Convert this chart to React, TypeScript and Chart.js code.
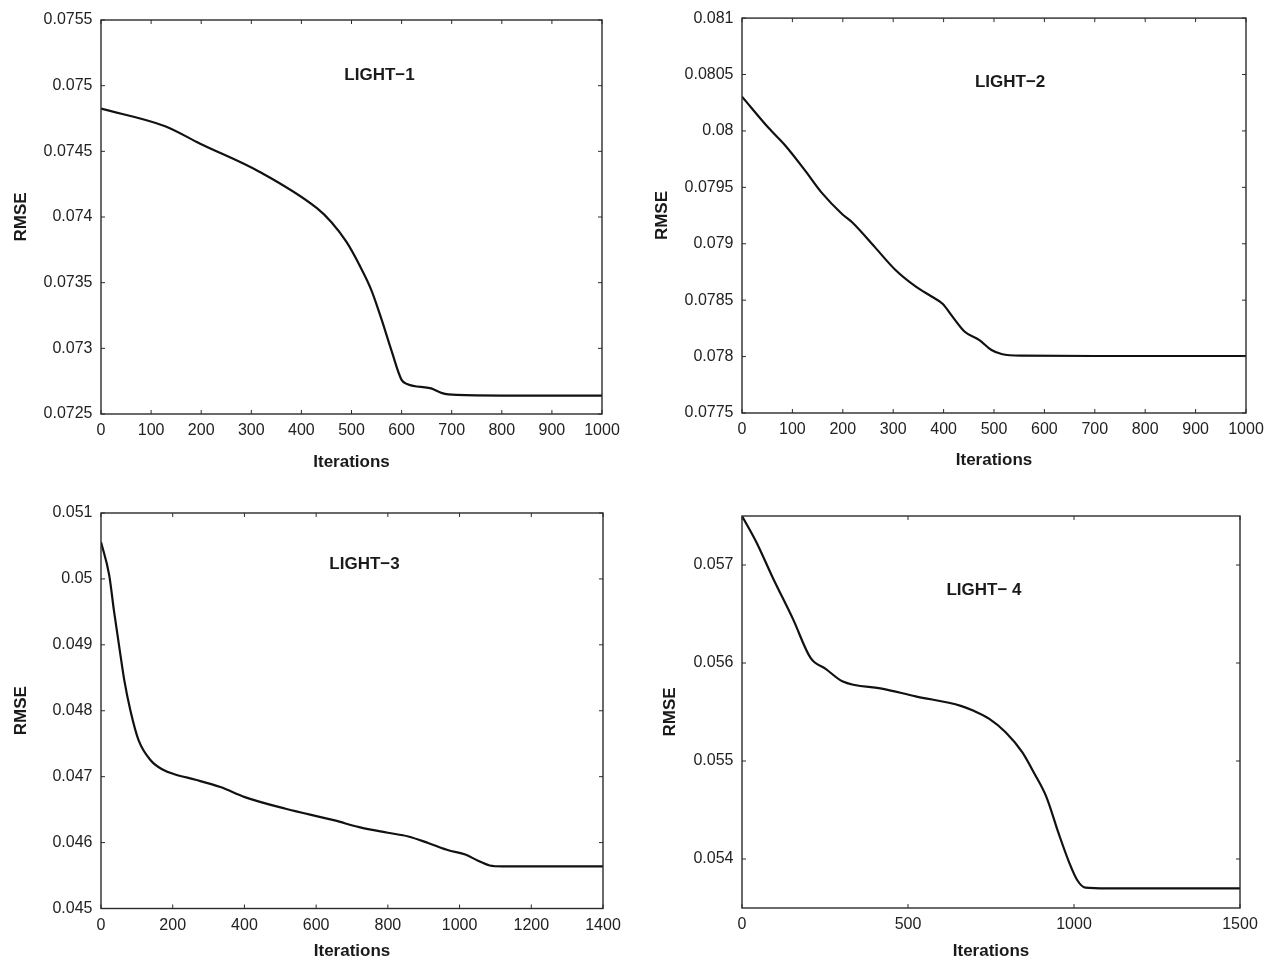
import React, { useEffect, useRef } from "react";
import { Chart, registerables } from "chart.js";

Chart.register(...registerables);

// ---------------- DATA ----------------
const light1Iterations = [0, 128, 197, 316, 431, 460, 490, 515, 540, 560, 580, 600, 612, 659, 681, 710, 800, 1000];
const light1Rmse = [0.074825, 0.074691, 0.07456, 0.074345, 0.074067, 0.07396, 0.07381, 0.07364, 0.07344, 0.07322, 0.07298, 0.07276, 0.072727, 0.072695, 0.072659, 0.072645, 0.07264, 0.07264];

const light2Iterations = [0, 53, 87, 126, 158, 199, 219, 264, 304, 345, 377, 398, 418, 442, 471, 495, 515, 556, 700, 1000];
const light2Rmse = [0.080304, 0.080025, 0.079864, 0.079644, 0.079453, 0.079262, 0.079188, 0.078968, 0.07877, 0.07862, 0.07853, 0.078468, 0.078352, 0.07822, 0.078146, 0.078058, 0.078023, 0.078008, 0.078005, 0.078005];

const light3Iterations = [0, 23, 36, 51, 65, 82, 105, 139, 173, 207, 264, 333, 401, 515, 652, 720, 800, 857, 914, 971, 1016, 1050, 1084, 1119, 1200, 1400];
const light3Rmse = [0.05056, 0.050054, 0.049523, 0.048966, 0.04846, 0.048005, 0.04755, 0.047246, 0.047105, 0.047034, 0.046953, 0.046842, 0.04669, 0.046513, 0.046336, 0.046234, 0.046149, 0.046093, 0.045991, 0.04588, 0.04582, 0.045728, 0.045653, 0.04564, 0.04564, 0.04564];

const light4Iterations = [0, 43, 92, 154, 207, 252, 302, 425, 523, 659, 696, 745, 794, 844, 881, 917, 954, 985, 1010, 1034, 1100, 1500];
const light4Rmse = [0.0575, 0.057235, 0.056875, 0.056445, 0.056049, 0.05594, 0.055814, 0.055736, 0.05566, 0.055563, 0.055515, 0.05543, 0.055294, 0.055091, 0.05487, 0.054632, 0.054258, 0.053969, 0.053783, 0.053708, 0.0537, 0.0537];

const xTicks1000 = [0, 100, 200, 300, 400, 500, 600, 700, 800, 900, 1000];
const xTicks1400 = [0, 200, 400, 600, 800, 1000, 1200, 1400];
const xTicks1500 = [0, 500, 1000, 1500];

const light1YTicks = [0.0725, 0.073, 0.0735, 0.074, 0.0745, 0.075, 0.0755];
const light2YTicks = [0.0775, 0.078, 0.0785, 0.079, 0.0795, 0.08, 0.0805, 0.081];
const light3YTicks = [0.045, 0.046, 0.047, 0.048, 0.049, 0.05, 0.051];
const light4YTicks = [0.054, 0.055, 0.056, 0.057];

const panelNames = ["LIGHT\u22121", "LIGHT\u22122", "LIGHT\u22123", "LIGHT\u2212 4"];
const xAxisTitle = "Iterations";
const yAxisTitle = "RMSE";

// ---------------- LAYOUT / STYLE ----------------
const FONT = '"Liberation Sans", Arial, Helvetica, sans-serif';

type PanelCfg = {
  xs: number[];
  ys: number[];
  xTicks: number[];
  yTicks: number[];
  xRange: [number, number];
  yRange: [number, number];
  name: string;
  namePos: [number, number];
  box: { left: number; top: number; width: number; height: number };
  pad: { top: number; right: number };
  yWidth: number;
  xHeight: number;
  yTitlePad: number;
  xTitlePad: number;
};

const panels: PanelCfg[] = [
  {
    xs: light1Iterations, ys: light1Rmse, xTicks: xTicks1000, yTicks: light1YTicks,
    xRange: [0, 1000], yRange: [0.0725, 0.0755], name: panelNames[0], namePos: [556, 0.07508],
    box: { left: 0, top: 0, width: 635, height: 480 }, pad: { top: 20, right: 33 },
    yWidth: 101, xHeight: 66, yTitlePad: 12.5, xTitlePad: 9.5,
  },
  {
    xs: light2Iterations, ys: light2Rmse, xTicks: xTicks1000, yTicks: light2YTicks,
    xRange: [0, 1000], yRange: [0.0775, 0.081], name: panelNames[1], namePos: [532, 0.08043],
    box: { left: 635, top: 0, width: 636, height: 480 }, pad: { top: 16, right: 25 },
    yWidth: 107, xHeight: 67, yTitlePad: 18.5, xTitlePad: 11.5,
  },
  {
    xs: light3Iterations, ys: light3Rmse, xTicks: xTicks1400, yTicks: light3YTicks,
    xRange: [0, 1400], yRange: [0.045, 0.051], name: panelNames[2], namePos: [735, 0.050227],
    box: { left: 0, top: 480, width: 635, height: 480 }, pad: { top: 33, right: 32 },
    yWidth: 101, xHeight: 51.5, yTitlePad: 12.5, xTitlePad: 0.5,
  },
  {
    xs: light4Iterations, ys: light4Rmse, xTicks: xTicks1500, yTicks: light4YTicks,
    xRange: [0, 1500], yRange: [0.0535, 0.0575], name: panelNames[3], namePos: [729, 0.056745],
    box: { left: 635, top: 480, width: 636, height: 480 }, pad: { top: 36, right: 31 },
    yWidth: 107, xHeight: 52, yTitlePad: 26.5, xTitlePad: 0,
  },
];

const framePlugin = {
  id: "frame",
  afterDatasetsDraw(chart: any, _args: any, opts: any) {
    const { ctx, chartArea: a, scales } = chart;
    const L = 4;
    ctx.save();
    ctx.strokeStyle = "#2b2b2b";
    ctx.lineWidth = 1.4;
    ctx.strokeRect(a.left, a.top, a.right - a.left, a.bottom - a.top);
    ctx.beginPath();
    scales.x.ticks.forEach((t: any) => {
      const px = scales.x.getPixelForValue(t.value);
      ctx.moveTo(px, a.bottom);
      ctx.lineTo(px, a.bottom - L);
      ctx.moveTo(px, a.top);
      ctx.lineTo(px, a.top + L);
    });
    scales.y.ticks.forEach((t: any) => {
      const py = scales.y.getPixelForValue(t.value);
      ctx.moveTo(a.left, py);
      ctx.lineTo(a.left + L, py);
      ctx.moveTo(a.right, py);
      ctx.lineTo(a.right - L, py);
    });
    ctx.lineWidth = 1;
    ctx.stroke();
    ctx.font = `bold 17px ${FONT}`;
    ctx.fillStyle = "#1a1a1a";
    ctx.textAlign = "center";
    ctx.textBaseline = "middle";
    ctx.fillText(opts.text, scales.x.getPixelForValue(opts.x), scales.y.getPixelForValue(opts.y));
    ctx.restore();
  },
};

const fmt = (v: number) => String(Number(v.toFixed(5)));

function Panel({ cfg }: { cfg: PanelCfg }) {
  const ref = useRef<HTMLCanvasElement>(null);
  useEffect(() => {
    const chart = new Chart(ref.current as HTMLCanvasElement, {
      type: "line",
      data: {
        datasets: [
          {
            data: cfg.xs.map((x, i) => ({ x, y: cfg.ys[i] })),
            borderColor: "#111111",
            borderWidth: 2.2,
            pointRadius: 0,
            cubicInterpolationMode: "monotone",
            fill: false,
          },
        ],
      },
      options: {
        animation: false,
        responsive: false,
        devicePixelRatio: 1,
        layout: { padding: { top: cfg.pad.top, right: cfg.pad.right, left: 0, bottom: 0 } },
        plugins: {
          legend: { display: false },
          tooltip: { enabled: false },
          frame: { text: cfg.name, x: cfg.namePos[0], y: cfg.namePos[1] },
        } as any,
        scales: {
          x: {
            type: "linear",
            min: cfg.xRange[0],
            max: cfg.xRange[1],
            grid: { display: false, drawTicks: false },
            border: { display: false },
            afterBuildTicks: (s: any) => {
              s.ticks = cfg.xTicks.map((v) => ({ value: v }));
            },
            afterFit: (s: any) => {
              s.height = cfg.xHeight;
            },
            ticks: {
              autoSkip: false,
              maxRotation: 0,
              padding: 7,
              color: "#222",
              font: { family: FONT, size: 16 },
              callback: (v: any) => String(v),
            },
            title: {
              display: true,
              text: xAxisTitle,
              color: "#1a1a1a",
              font: { family: FONT, size: 17, weight: "bold", lineHeight: 1 },
              padding: { top: 0, bottom: cfg.xTitlePad },
            },
          },
          y: {
            type: "linear",
            min: cfg.yRange[0],
            max: cfg.yRange[1],
            grid: { display: false, drawTicks: false },
            border: { display: false },
            afterBuildTicks: (s: any) => {
              s.ticks = cfg.yTicks.map((v) => ({ value: v }));
            },
            afterFit: (s: any) => {
              s.width = cfg.yWidth;
            },
            ticks: {
              autoSkip: false,
              padding: 8.5,
              color: "#222",
              font: { family: FONT, size: 16 },
              callback: (v: any) => fmt(Number(v)),
            },
            title: {
              display: true,
              text: yAxisTitle,
              color: "#1a1a1a",
              font: { family: FONT, size: 17, weight: "bold", lineHeight: 1 },
              padding: { top: cfg.yTitlePad, bottom: 0 },
            },
          },
        },
      },
      plugins: [framePlugin as any],
    } as any);
    return () => chart.destroy();
  }, [cfg]);
  const { left, top, width, height } = cfg.box;
  return (
    <div style={{ position: "absolute", left, top, width, height }}>
      <canvas ref={ref} width={width} height={height} style={{ display: "block", width, height }} />
    </div>
  );
}

export default function App() {
  return (
    <div style={{ position: "absolute", left: 0, top: 0, width: 1271, height: 960, background: "#fff", overflow: "hidden" }}>
      {panels.map((p, i) => (
        <Panel key={i} cfg={p} />
      ))}
    </div>
  );
}
